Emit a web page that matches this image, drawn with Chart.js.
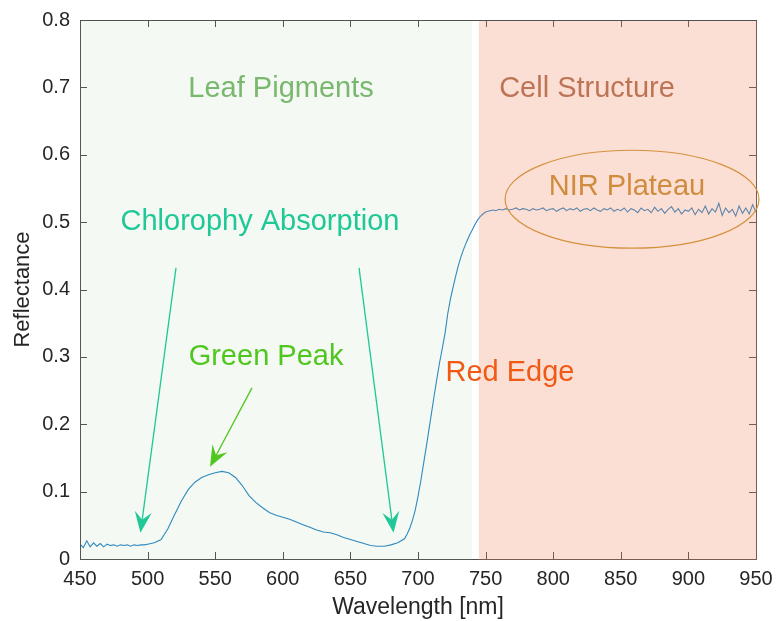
<!DOCTYPE html>
<html><head><meta charset="utf-8">
<script src="https://cdn.jsdelivr.net/npm/chart.js@4"></script>
<style>html,body{margin:0;padding:0;background:#fff;}canvas{display:block;}</style>
</head><body>
<canvas id="c" width="776" height="621"></canvas>
<script>
// ---- data ----
const wavelengths = [
  450,452.5,455,457.5,460,462.5,465,467.5,470,472.5,475,477.5,480,482.5,485,487.5,490,492.5,495,497.5,500,
  505,510,515,520,525,530,535,540,545,550,555,560,565,570,575,580,585,590,595,600,605,610,615,620,625,630,635,640,645,650,655,660,665,670,675,680,685,690,
  692,694,696,698,700,702,704,706,708,710,712,714,716,718,720,722,724,726,728,730,732,734,736,738,740,742,744,746,748,750,753,756,
  757.5,760,762.5,765,767.5,770,772.5,775,777.5,780,782.5,785,787.5,790,792.5,795,797.5,800,802.5,805,807.5,810,812.5,815,817.5,820,822.5,825,827.5,830,832.5,835,837.5,840,842.5,845,847.5,850,
  852.5,855,857.5,860,862.5,865,867.5,870,872.5,875,877.5,880,882.5,885,887.5,890,892.5,895,897.5,900,902.5,905,907.5,910,912.5,915,917.5,920,922.5,925,927.5,930,932.5,935,937.5,940,942.5,945,947.5,950
];
const reflectance = [
  0.022,0.017,0.027,0.018,0.024,0.019,0.023,0.018,0.022,0.020,0.021,0.019,0.021,0.020,0.021,0.019,0.021,0.020,0.021,0.021,0.022,
  0.024,0.029,0.045,0.066,0.086,0.103,0.114,0.121,0.125,0.128,0.130,0.128,0.121,0.109,0.094,0.084,0.076,0.069,0.065,0.062,0.059,0.055,0.051,0.047,0.043,0.040,0.039,0.036,0.032,0.029,0.026,0.023,0.020,0.019,0.019,0.021,0.024,0.030,
  0.037,0.046,0.058,0.073,0.093,0.115,0.140,0.165,0.191,0.217,0.243,0.268,0.292,0.313,0.335,0.364,0.386,0.404,0.421,0.437,0.450,0.461,0.471,0.480,0.488,0.496,0.503,0.508,0.512,0.515,0.517,0.518,
  0.517,0.519,0.518,0.520,0.518,0.519,0.521,0.518,0.520,0.519,0.517,0.520,0.518,0.519,0.521,0.517,0.519,0.520,0.516,0.519,0.521,0.517,0.520,0.518,0.521,0.516,0.519,0.520,0.517,0.521,0.518,0.516,0.520,0.518,0.521,0.516,0.519,0.517,
  0.521,0.515,0.520,0.518,0.514,0.521,0.517,0.519,0.514,0.522,0.516,0.520,0.513,0.519,0.523,0.515,0.520,0.512,0.518,0.516,0.521,0.511,0.519,0.514,0.524,0.512,0.520,0.515,0.528,0.510,0.521,0.514,0.519,0.509,0.524,0.513,0.521,0.512,0.526,0.515
];
const xTickValues = [450,500,550,600,650,700,750,800,850,900,950];
const yTickValues = [0,0.1,0.2,0.3,0.4,0.5,0.6,0.7,0.8];
const regionNames = ['Leaf Pigments','Cell Structure'];
const regionFrom  = [450, 745];
const regionTo    = [740, 950];

// ---- styles / annotation placement (data coordinates) ----
const FONT = '"Liberation Sans", Arial, Helvetica, sans-serif';
const regionFill = ['rgba(120,180,100,0.08)','rgba(242,128,85,0.25)'];
const labels = [
  {text:'Leaf Pigments', x:598.7, y:0.698, color:'#79b86e'},
  {text:'Cell Structure', x:825, y:0.698, color:'#bd7456'},
  {text:'NIR Plateau', x:854.6, y:0.552, color:'#d08c3e'},
  {text:'Chlorophy Absorption', x:583.1, y:0.500, color:'#1fc896'},
  {text:'Green Peak', x:587.6, y:0.300, color:'#4fc71f'},
  {text:'Red Edge', x:768, y:0.276, color:'#f05a14'}
];
const arrows = [
  {x1:521.0, y1:0.432, x2:494.7, y2:0.039, color:'#1fc896'},
  {x1:656.4, y1:0.432, x2:681.9, y2:0.039, color:'#1fc896'},
  {x1:577.2, y1:0.254, x2:546.2, y2:0.137, color:'#4fc71f'}
];
const ellipse = {cx:858.3, cy:0.534, rx:93.9, ry:0.0727, color:'#d4913f'};

function drawArrow(ctx, x1, y1, x2, y2, color) {
  const ang = Math.atan2(y2 - y1, x2 - x1);
  const L = 21, W = 8.5, N = 13;
  const cos = Math.cos(ang), sin = Math.sin(ang);
  const bx = x2 - L * cos, by = y2 - L * sin;
  const nx = x2 - N * cos, ny = y2 - N * sin;
  ctx.save();
  ctx.strokeStyle = color; ctx.fillStyle = color; ctx.lineWidth = 1.3;
  ctx.beginPath(); ctx.moveTo(x1, y1); ctx.lineTo(nx, ny); ctx.stroke();
  ctx.beginPath();
  ctx.moveTo(x2, y2);
  ctx.lineTo(bx - W * sin, by + W * cos);
  ctx.lineTo(nx, ny);
  ctx.lineTo(bx + W * sin, by - W * cos);
  ctx.closePath(); ctx.fill();
  ctx.restore();
}

const decor = {
  id: 'decor',
  beforeDraw(chart) {
    const ctx = chart.ctx;
    ctx.save(); ctx.fillStyle = '#fff'; ctx.fillRect(0, 0, chart.width, chart.height); ctx.restore();
  },
  afterDatasetsDraw(chart) {
    const {ctx, chartArea: a, scales: {x, y}} = chart;
    ctx.save();
    // box and inward ticks
    ctx.strokeStyle = '#505050'; ctx.lineWidth = 1;
    ctx.strokeRect(Math.round(a.left) + 0.5, Math.round(a.top) + 0.5, Math.round(a.right - a.left), Math.round(a.bottom - a.top));
    ctx.beginPath();
    xTickValues.forEach(v => {
      const px = Math.round(x.getPixelForValue(v)) + 0.5;
      ctx.moveTo(px, a.bottom); ctx.lineTo(px, a.bottom - 7);
      ctx.moveTo(px, a.top); ctx.lineTo(px, a.top + 7);
    });
    yTickValues.forEach(v => {
      const py = Math.round(y.getPixelForValue(v)) + 0.5;
      ctx.moveTo(a.left, py); ctx.lineTo(a.left + 7, py);
      ctx.moveTo(a.right, py); ctx.lineTo(a.right - 7, py);
    });
    ctx.stroke();
    // region patches drawn over line (semi-transparent)
    regionFrom.forEach((f, i) => {
      const x0 = x.getPixelForValue(f), x1 = x.getPixelForValue(regionTo[i]);
      ctx.fillStyle = regionFill[i];
      ctx.fillRect(x0, a.top + 1, x1 - x0 + (i === 1 ? 1 : 0), a.bottom - a.top);
    });
    // ellipse
    ctx.strokeStyle = ellipse.color; ctx.lineWidth = 1.2;
    ctx.beginPath();
    const ecx = x.getPixelForValue(ellipse.cx), ecy = y.getPixelForValue(ellipse.cy);
    ctx.ellipse(ecx, ecy, x.getPixelForValue(ellipse.cx + ellipse.rx) - ecx, ecy - y.getPixelForValue(ellipse.cy + ellipse.ry), 0, 0, Math.PI * 2);
    ctx.stroke();
    // arrows
    arrows.forEach(ar => drawArrow(ctx, x.getPixelForValue(ar.x1), y.getPixelForValue(ar.y1), x.getPixelForValue(ar.x2), y.getPixelForValue(ar.y2), ar.color));
    // labels
    ctx.font = '29px ' + FONT; ctx.textAlign = 'center'; ctx.textBaseline = 'middle';
    labels.forEach(l => { ctx.fillStyle = l.color; ctx.fillText(l.text, x.getPixelForValue(l.x), y.getPixelForValue(l.y)); });
    ctx.restore();
  }
};

new Chart(document.getElementById('c'), {
  type: 'line',
  data: {
    datasets: [{
      data: wavelengths.map((w, i) => ({x: w, y: reflectance[i]})),
      borderColor: '#2b87c8', borderWidth: 1.1, pointRadius: 0, tension: 0, fill: false
    }]
  },
  options: {
    responsive: false, animation: false, devicePixelRatio: 1,
    layout: {padding: {top: 20, right: 20, left: 0, bottom: 0}},
    plugins: {legend: {display: false}, tooltip: {enabled: false}},
    scales: {
      x: {
        type: 'linear', min: 450, max: 950,
        afterFit: s => { s.height = 62; s.paddingLeft = 0; s.paddingRight = 0; },
        afterBuildTicks: s => { s.ticks = xTickValues.map(v => ({value: v})); },
        grid: {display: false, drawTicks: false}, border: {display: false},
        ticks: {color: '#262626', font: {family: FONT, size: 20}, padding: 8, maxRotation: 0,
                callback: v => String(v)},
        title: {display: true, text: 'Wavelength [nm]', color: '#262626', font: {family: FONT, size: 23}, padding: {top: 0, bottom: 0}}
      },
      y: {
        type: 'linear', min: 0, max: 0.8,
        afterFit: s => { s.width = 80; s.paddingTop = 0; s.paddingBottom = 0; },
        afterBuildTicks: s => { s.ticks = yTickValues.map(v => ({value: v})); },
        grid: {display: false, drawTicks: false}, border: {display: false},
        ticks: {color: '#262626', font: {family: FONT, size: 20}, padding: 10,
                callback: v => v === 0 ? '0' : Number(v).toFixed(1)},
        title: {display: true, text: 'Reflectance', color: '#262626', font: {family: FONT, size: 22}, padding: {top: 10, bottom: 0}}
      }
    }
  },
  plugins: [decor]
});
</script>
</body></html>
